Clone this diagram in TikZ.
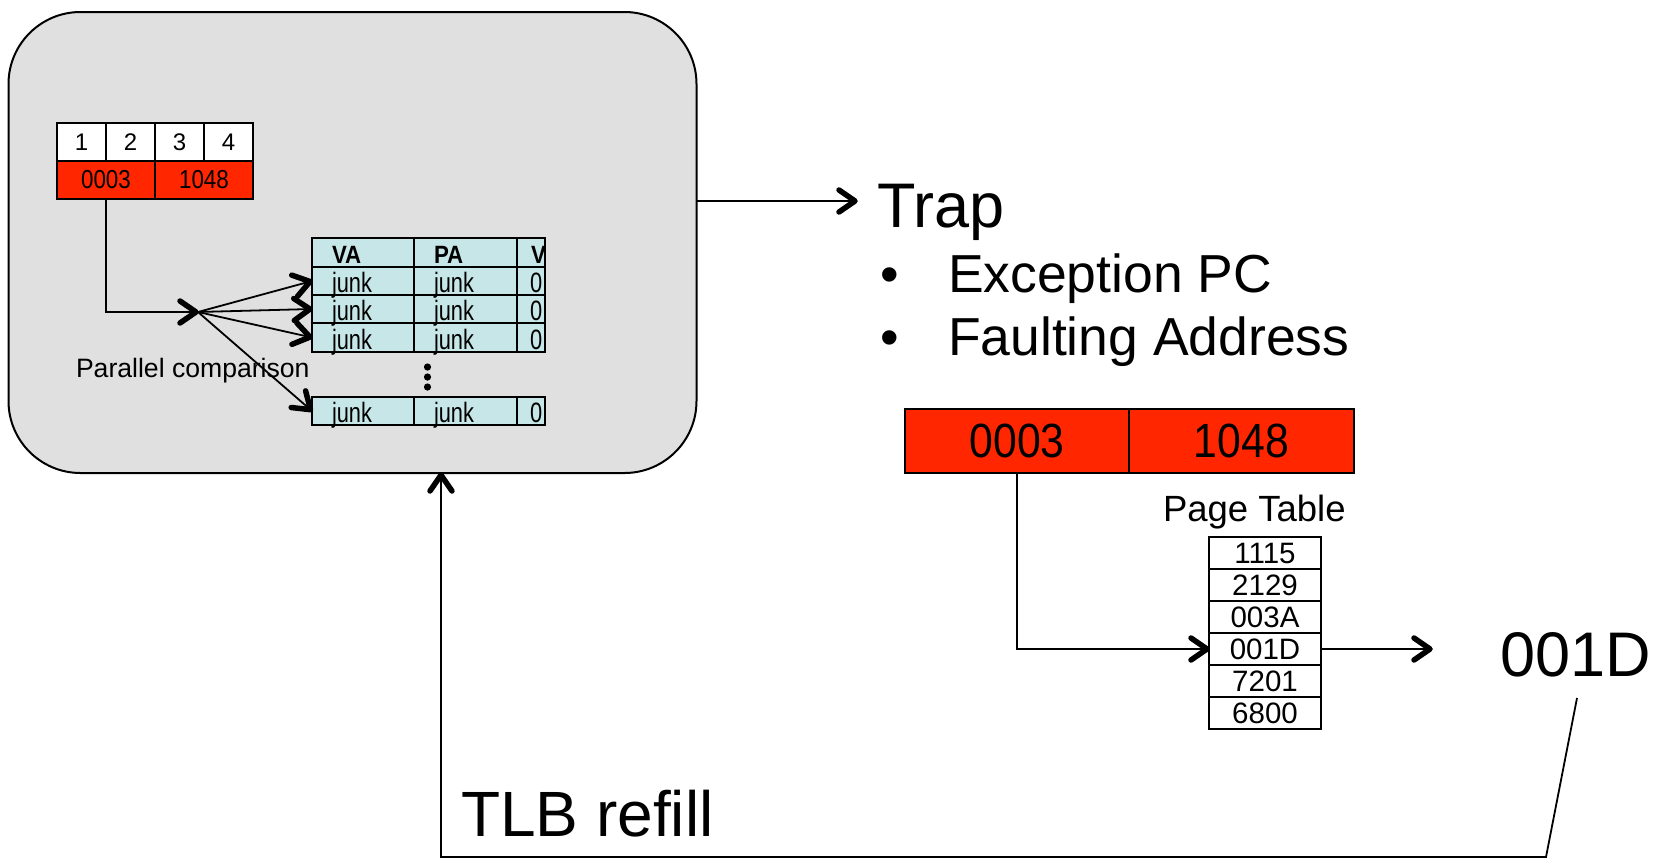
\documentclass[tikz,border=0pt]{standalone}
\usepackage{fontspec}
\usepackage{graphicx}
\setmainfont{Liberation Sans}
\usetikzlibrary{decorations.markings}

\definecolor{tlbgray}{RGB}{224,224,224}
\definecolor{hotred}{RGB}{255,38,0}
\definecolor{tlbcyan}{RGB}{199,230,232}

\newcommand\fsz[1]{\fontsize{#1pt}{#1pt}\selectfont}
\newcommand\narrowtxt[2]{\scalebox{#1}[1]{#2}}

\begin{document}
\begin{tikzpicture}[x=1pt,y=-1pt,
  every node/.style={inner sep=0pt,outer sep=0pt},
  link/.style={line width=1.8pt,postaction={decorate},
    decoration={markings,mark=at position 1 with {
      \draw[line width=5.5pt,line cap=round,line join=round]
        (-18pt,-11pt) -- (-2pt,0pt) -- (-18pt,11pt);}}},
  cell/.style={draw,line width=2pt,anchor=north west},
  label/.style={anchor=base west}]
\useasboundingbox (0,0) rectangle (1662,857);

% TLB enclosure
\node[draw,line width=2pt,fill=tlbgray,rounded corners=72pt,anchor=north west,
      minimum width=688pt,minimum height=461pt] (tlb) at (8.5,12) {};

% virtual address: page number digits and split fields
\foreach \i/\x in {1/57,2/106,3/155,4/204}
  \node[cell,fill=white,minimum width=49pt,minimum height=38pt,font=\fsz{24}] (h\i) at (\x,123) {\i};
\node[cell,fill=hotred,minimum width=98pt,minimum height=38pt,font=\fsz{26}] (va) at (57,161) {\narrowtxt{0.86}{0003}};
\node[cell,fill=hotred,minimum width=98pt,minimum height=38pt,font=\fsz{26}] (pa) at (155,161) {\narrowtxt{0.86}{1048}};

% TLB entries
\foreach \r/\top/\h in {0/238/29,1/267/28,2/295/28,3/323/29,4/397/28} {
  \node[cell,fill=tlbcyan,minimum width=101.5pt,minimum height=\h pt] (t\r a) at (312,\top) {};
  \node[cell,fill=tlbcyan,minimum width=103pt,minimum height=\h pt] (t\r b) at (413.5,\top) {};
  \node[cell,fill=tlbcyan,minimum width=28pt,minimum height=\h pt] (t\r c) at (516.5,\top) {};
}
\begin{scope}
  \clip (300,230) rectangle (543.5,430);
  \node[label,font=\fsz{25}\bfseries] (hva) at (332,263) {\narrowtxt{0.89}{VA}};
  \node[label,font=\fsz{25}\bfseries] (hpa) at (434,263) {\narrowtxt{0.89}{PA}};
  \node[label,font=\fsz{25}\bfseries] (hv) at (531,263) {\narrowtxt{0.89}{V}};
  \foreach \r/\base in {1/292,2/320,3/349,4/422} {
    \node[label,font=\fsz{28}] (j\r a) at (332,\base) {\narrowtxt{0.78}{junk}};
    \node[label,font=\fsz{28}] (j\r b) at (434,\base) {\narrowtxt{0.78}{junk}};
    \node[label,font=\fsz{28}] (j\r c) at (530,\base) {\narrowtxt{0.78}{0}};
  }
\end{scope}
\foreach \y in {367,377,387}
  \fill (427.5,\y) circle (3.6pt);

\node[label,font=\fsz{26.6}] (par) at (76,377) {Parallel comparison};

% compare the page number against every entry
\coordinate (J) at (198,312);
\draw[link] (va.south) |- (J);
\foreach \r in {1,2,3,4}
  \draw[link] (J) -- (t\r a.west);

% miss -> trap
\coordinate (trapend) at (857,201);
\draw[link] (tlb.east |- trapend) -- (trapend);
\node[label,font=\fsz{63}] (trap) at (877,227) {Trap};
\node[label,font=\fsz{53}] (b1) at (880,292) {•};
\node[label,font=\fsz{53}] (b2) at (880,355) {•};
\node[label,font=\fsz{53.5}] (exc) at (948,292) {Exception PC};
\node[label,font=\fsz{53.5}] (flt) at (948,355) {Faulting Address};

% faulting address and page table walk
\node[cell,fill=hotred,minimum width=224pt,minimum height=64pt,font=\fsz{48}] (bva) at (905,409) {\narrowtxt{0.89}{0003}};
\node[cell,fill=hotred,minimum width=225pt,minimum height=64pt,font=\fsz{48}] (bpa) at (1129,409) {\narrowtxt{0.89}{1048}};
\node[label,font=\fsz{36.5}] (ptl) at (1163,521) {Page Table};
\foreach \i/\top/\v in {1/537/1115,2/569/2129,3/601/003A,4/633/001D,5/665/7201,6/697/6800}
  \node[cell,fill=white,minimum width=112pt,minimum height=32pt,font=\fsz{29.5}] (p\i) at (1209,\top) {\v};
\draw[link] (bva.south) |- (p4.west);

\coordinate (res) at (1432,649);
\draw[link] (p4.east) -- (p4.east -| res);
\node[label,font=\fsz{63}] (frame) at (1500,676) {001D};

% refill path back into the TLB
\coordinate (f1) at (1577,698);
\coordinate (f2) at (1546,857);
\coordinate (f3) at (441,857);
\draw[link] (f1) -- (f2) -- (f3) -- (f3 |- tlb.south);
\node[label,font=\fsz{64}] (refill) at (461,836) {TLB refill};
\end{tikzpicture}
\end{document}
